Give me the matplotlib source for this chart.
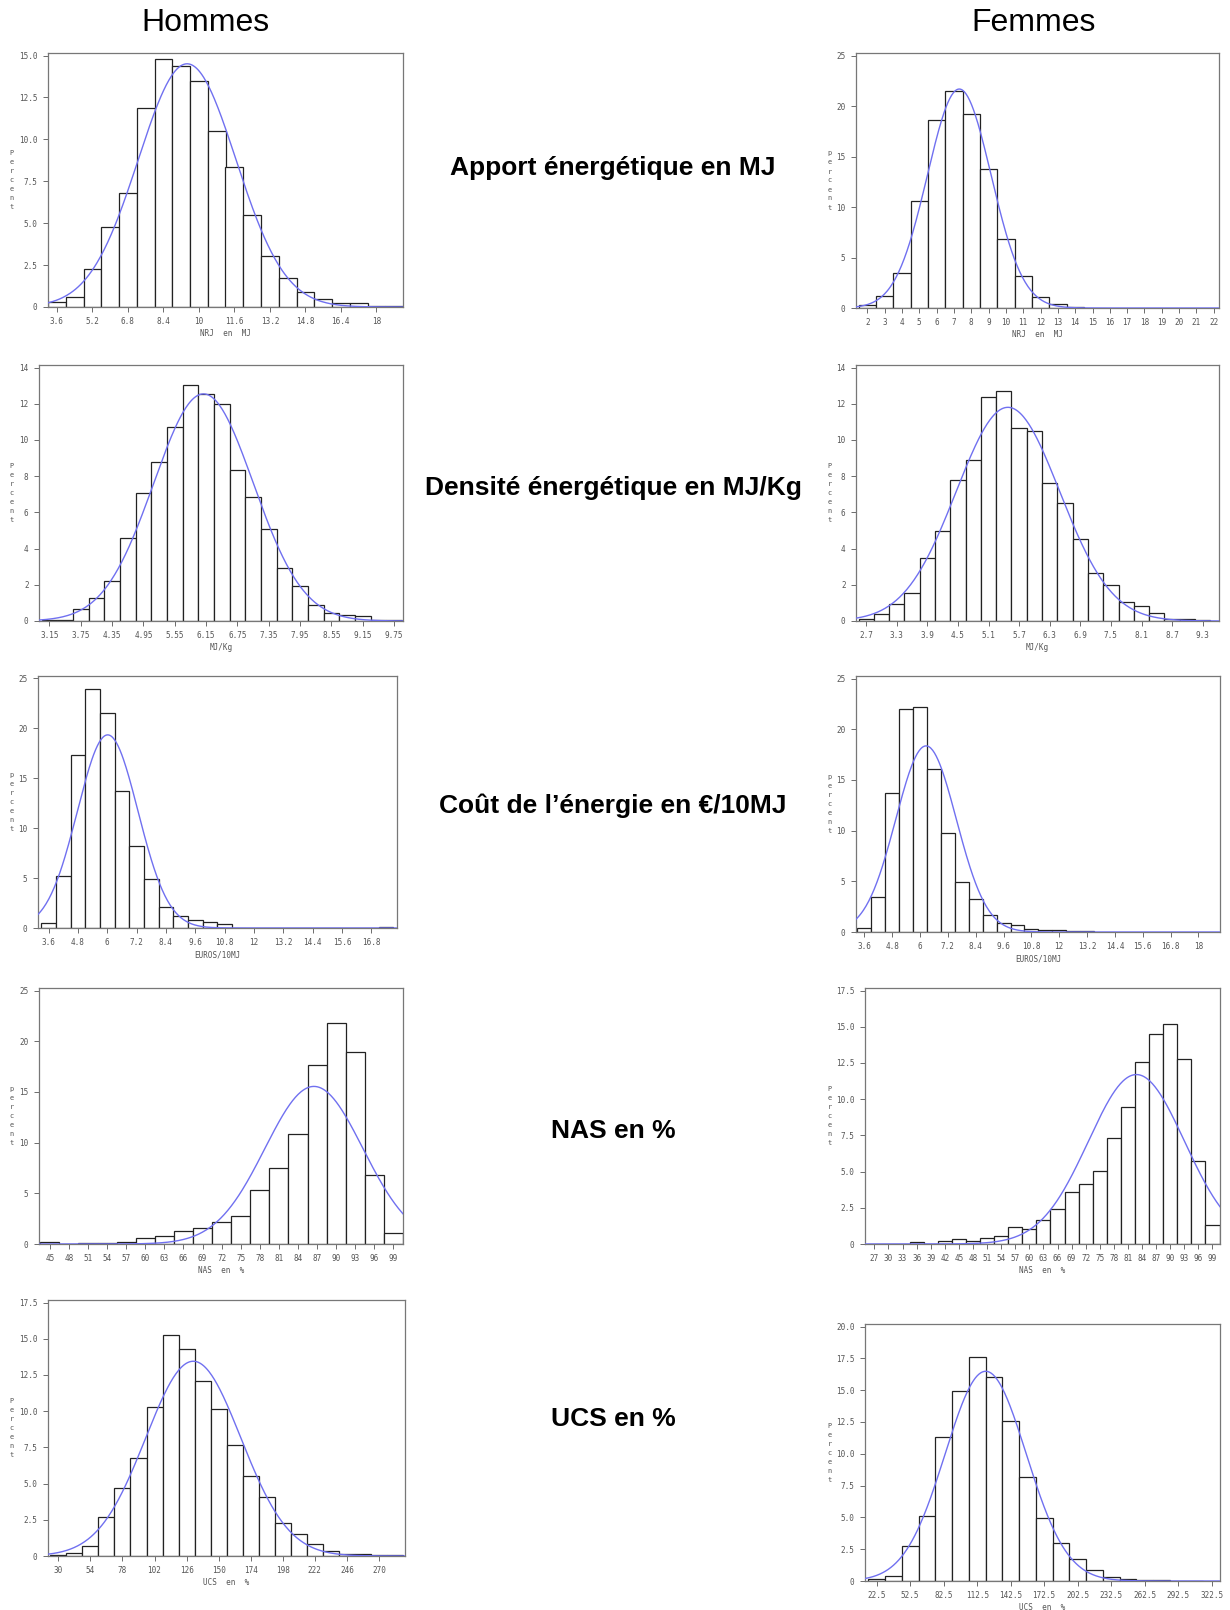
import numpy as np
import matplotlib
matplotlib.use("Agg")
import matplotlib.pyplot as plt

# ------------------------------------------------------------
# Data (percent per bin + fitted normal)
# ------------------------------------------------------------
# row 1 : NRJ en MJ
nrj_h_start, nrj_h_width = 3.6, 0.8
nrj_h_pct = [0.3, 0.6, 2.25, 4.75, 6.8, 11.85, 14.8, 14.35, 13.5, 10.5, 8.35,
             5.5, 3.05, 1.7, 0.9, 0.5, 0.25, 0.25, 0.04, 0.03]
nrj_h_fit = (9.47, 2.2)
nrj_f_start, nrj_f_width = 2.0, 1.0
nrj_f_pct = [0.25, 1.15, 3.45, 10.6, 18.6, 21.5, 19.2, 13.8, 6.85, 3.15, 1.05,
             0.35, 0.1]
nrj_f_fit = (7.31, 1.84)

# row 2 : MJ/Kg
dens_h_start, dens_h_width = 3.15, 0.3
dens_h_pct = [0.05, 0.06, 0.65, 1.27, 2.2, 4.6, 7.07, 8.78, 10.74, 13.06, 12.56,
              12.0, 8.36, 6.85, 5.1, 2.93, 1.92, 0.9, 0.42, 0.33, 0.28, 0.04, 0.04]
dens_h_fit = (6.1, 0.954)
dens_f_start, dens_f_width = 2.7, 0.3
dens_f_pct = [0.13, 0.4, 0.95, 1.55, 3.48, 4.95, 7.77, 8.88, 12.38, 12.73, 10.68,
              10.5, 7.62, 6.52, 4.51, 2.63, 1.97, 1.05, 0.81, 0.44, 0.13, 0.1, 0.03]
dens_f_fit = (5.48, 1.014)

# row 3 : EUROS/10MJ
cout_h_start, cout_h_width = 3.6, 0.6
cout_h_pct = [0.54, 5.18, 17.36, 23.92, 21.53, 13.73, 8.18, 4.91, 2.09, 1.18,
              0.77, 0.64, 0.4, 0, 0, 0, 0, 0, 0, 0, 0, 0, 0, 0.1]
cout_h_fit = (6.02, 1.237)
cout_f_start, cout_f_width = 3.6, 0.6
cout_f_pct = [0.36, 3.49, 13.74, 21.97, 22.23, 16.04, 9.78, 4.94, 3.26, 1.65,
              0.86, 0.72, 0.33, 0.23, 0.16, 0.1, 0.07]
cout_f_fit = (6.26, 1.304)

# row 4 : NAS en %
nas_h_start, nas_h_width = 45, 3
nas_h_pct = [0.2, 0, 0.07, 0.1, 0.23, 0.6, 0.75, 1.25, 1.6, 2.2, 2.73, 5.29,
             7.52, 10.87, 17.64, 21.78, 18.92, 6.8, 1.08]
nas_h_fit = (86.5, 7.7)
nas_f_start, nas_f_width = 27, 3
nas_f_pct = [0, 0, 0, 0.14, 0, 0.23, 0.35, 0.23, 0.41, 0.58, 1.15, 1.04, 1.63,
             2.42, 3.59, 4.14, 5.02, 7.32, 9.44, 12.55, 14.53, 15.22, 12.8,
             5.71, 1.34]
nas_f_fit = (82.8, 10.23)

# row 5 : UCS en %
ucs_h_start, ucs_h_width = 30, 12
ucs_h_pct = [0.1, 0.23, 0.67, 2.7, 4.68, 6.8, 10.32, 15.23, 14.26, 12.1, 10.14,
             7.69, 5.53, 4.07, 2.25, 1.53, 0.81, 0.37, 0.16, 0.12, 0.07, 0.05]
ucs_h_fit = (131, 35.6)
ucs_f_start, ucs_f_width = 22.5, 15
ucs_f_pct = [0.16, 0.37, 2.74, 5.11, 11.3, 14.94, 17.58, 16.05, 12.54, 8.2, 4.93,
             2.95, 1.74, 0.84, 0.3, 0.16, 0.08, 0.05, 0.03, 0.03]
ucs_f_fit = (120.1, 36.3)

# tick labels
nrj_h_xt = ["3.6", "5.2", "6.8", "8.4", "10", "11.6", "13.2", "14.8", "16.4", "18"]
nrj_f_xt = [str(v) for v in range(2, 23)]
dens_h_xt = ["3.15", "3.75", "4.35", "4.95", "5.55", "6.15", "6.75", "7.35",
             "7.95", "8.55", "9.15", "9.75"]
dens_f_xt = ["2.7", "3.3", "3.9", "4.5", "5.1", "5.7", "6.3", "6.9", "7.5",
             "8.1", "8.7", "9.3"]
cout_h_xt = ["3.6", "4.8", "6", "7.2", "8.4", "9.6", "10.8", "12", "13.2",
             "14.4", "15.6", "16.8"]
cout_f_xt = cout_h_xt + ["18"]
nas_h_xt = [str(v) for v in range(45, 100, 3)]
nas_f_xt = [str(v) for v in range(27, 100, 3)]
ucs_h_xt = ["30", "54", "78", "102", "126", "150", "174", "198", "222", "246", "270"]
ucs_f_xt = ["22.5", "52.5", "82.5", "112.5", "142.5", "172.5", "202.5",
            "232.5", "262.5", "292.5", "322.5"]

yt_15 = ["0", "2.5", "5.0", "7.5", "10.0", "12.5", "15.0"]
yt_25 = ["0", "5", "10", "15", "20", "25"]
yt_14 = ["0", "2", "4", "6", "8", "10", "12", "14"]
yt_175 = ["0", "2.5", "5.0", "7.5", "10.0", "12.5", "15.0", "17.5"]
yt_20 = ["0", "2.5", "5.0", "7.5", "10.0", "12.5", "15.0", "17.5", "20.0"]

row_titles = ["Apport énergétique en MJ", "Densité énergétique en MJ/Kg",
              "Coût de l’énergie en €/10MJ", "NAS en %", "UCS en %"]

# ------------------------------------------------------------
# panel definitions: data, ticks, x range, label, box in pixels
# ------------------------------------------------------------
W, H = 1230, 1610
panels = [
    (nrj_h_start, nrj_h_width, nrj_h_pct, nrj_h_fit, nrj_h_xt, yt_15, (3.2, 19.2), "NRJ en MJ", "Percent", (48, 53, 403, 307)),
    (nrj_f_start, nrj_f_width, nrj_f_pct, nrj_f_fit, nrj_f_xt, yt_25, (1.35, 22.3), "NRJ en MJ", "percent", (856, 53, 1219, 308)),
    (dens_h_start, dens_h_width, dens_h_pct, dens_h_fit, dens_h_xt, yt_14, (2.95, 9.92), "MJ/Kg", "Percent", (39, 365, 403, 621)),
    (dens_f_start, dens_f_width, dens_f_pct, dens_f_fit, dens_f_xt, yt_14, (2.5, 9.62), "MJ/Kg", "Percent", (856, 365, 1219, 621)),
    (cout_h_start, cout_h_width, cout_h_pct, cout_h_fit, cout_h_xt, yt_25, (3.17, 17.85), "EUROS/10MJ", "percent", (38, 676, 397, 928)),
    (cout_f_start, cout_f_width, cout_f_pct, cout_f_fit, cout_f_xt, yt_25, (3.24, 18.93), "EUROS/10MJ", "percent", (856, 676, 1220, 932)),
    (nas_h_start, nas_h_width, nas_h_pct, nas_h_fit, nas_h_xt, yt_25, (43.3, 100.5), "NAS en %", "percent", (39, 988, 403, 1244)),
    (nas_f_start, nas_f_width, nas_f_pct, nas_f_fit, nas_f_xt, yt_175, (25.0, 100.6), "NAS en %", "Percent", (865, 988, 1220, 1244)),
    (ucs_h_start, ucs_h_width, ucs_h_pct, ucs_h_fit, ucs_h_xt, yt_175, (22.25, 289.5), "UCS en %", "Percent", (48, 1300, 405, 1556)),
    (ucs_f_start, ucs_f_width, ucs_f_pct, ucs_f_fit, ucs_f_xt, yt_20, (12.0, 330.0), "UCS en %", "Percent", (865, 1324, 1220, 1581)),
]

small = "DejaVu Sans Mono"
grey = "#555555"

fig = plt.figure(figsize=(W / 100, H / 100), dpi=100)
fig.patch.set_facecolor("white")

for start, width, pct, fit, xt, yt, xlim, xlab, ylab, box in panels:
    x0, y0, x1, y1 = box
    ax = fig.add_axes([x0 / W, 1 - y1 / H, (x1 - x0) / W, (y1 - y0) / H])
    mids = start + width * np.arange(len(pct))
    ax.bar(mids, pct, width=width, color="white", edgecolor="#222222",
           linewidth=0.9, zorder=2)

    # fitted normal curve, percent scale
    mu, sd = fit
    xs = np.linspace(xlim[0], xlim[1], 400)
    curve = 100 * width * np.exp(-0.5 * ((xs - mu) / sd) ** 2) / (sd * np.sqrt(2 * np.pi))
    ax.plot(xs, curve, color="#7070f0", linewidth=1.0, zorder=3)

    ax.set_xlim(*xlim)
    ytop = float(yt[-1])
    ax.set_ylim(0, ytop * 1.01)
    ax.set_xticks([float(t) for t in xt])
    ax.set_xticklabels(xt, fontsize=5.5, family=small, color=grey)
    ax.set_yticks([float(t) for t in yt])
    ax.set_yticklabels(yt, fontsize=5.5, family=small, color=grey)
    ax.tick_params(direction="out", length=3.5, width=0.6, colors=grey, pad=4)
    ax.set_xlabel(" ".join(xlab.split(" ")).replace(" ", "  "), fontsize=5.5,
                  family=small, color=grey, labelpad=2)
    for sp in ax.spines.values():
        sp.set_color("#777777")
        sp.set_linewidth(0.9)

    # SAS style stacked y label
    lx = 12 if x0 < 600 else 830
    fig.text(lx / W, 1 - (y0 + y1) / 2 / H, "\n".join(ylab), fontsize=5,
             family=small, color=grey, ha="center", va="center", linespacing=1.6)

# column headers
fig.text(205 / W, 1 - 23 / H, "Hommes", fontsize=23, family="Liberation Sans",
         ha="center", va="center")
fig.text(1034 / W, 1 - 23 / H, "Femmes", fontsize=23, family="Liberation Sans",
         ha="center", va="center")

# row titles in the middle column
row_y = [168, 488, 806, 1131, 1419]
for label, yy in zip(row_titles, row_y):
    fig.text(613 / W, 1 - yy / H, label, fontsize=19, family="Liberation Sans",
             fontweight="bold", ha="center", va="center")

fig.savefig("out.png", dpi=100)
